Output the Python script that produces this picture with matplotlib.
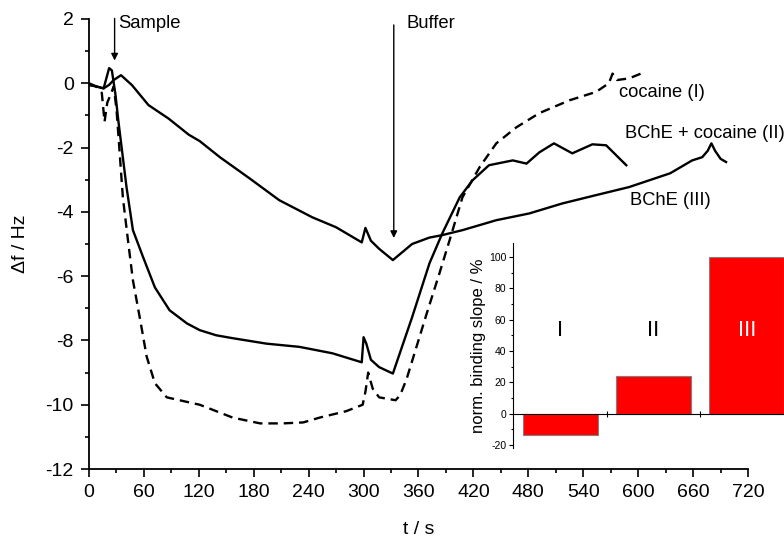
import matplotlib
matplotlib.use("Agg")
import matplotlib.pyplot as plt
from matplotlib.ticker import MultipleLocator

plt.rcParams['font.family'] = ['Liberation Sans', 'DejaVu Sans']
plt.rcParams['axes.unicode_minus'] = False

# cocaine (I), dashed
t_coc = [0, 8, 14, 17, 20, 23, 27, 30, 32, 37, 43, 48, 56, 63, 72, 85, 99, 121,
         139, 157, 187, 212, 234, 252, 281, 299, 302, 305, 310, 317, 335, 340,
         347, 369, 383, 394, 408, 427, 445, 467, 492, 525, 554, 568, 572, 577,
         590, 603]
y_coc = [0, -0.1, -0.3, -1.2, -0.6, -0.4, -0.1, -0.8, -1.56, -3.55, -4.98, -6.13,
         -7.37, -8.5, -9.33, -9.77, -9.86, -10.0, -10.2, -10.4, -10.58, -10.58,
         -10.55, -10.4, -10.2, -10.0, -9.6, -9.0, -9.5, -9.77, -9.86, -9.7, -9.2,
         -7.16, -5.9, -4.88, -3.55, -2.6, -1.87, -1.37, -0.93, -0.53, -0.27, 0.0,
         0.3, 0.1, 0.15, 0.3]

# BChE + cocaine (II), solid lower
t_mix = [0, 8, 16, 22, 25, 29, 32, 41, 48, 59, 72, 88, 107, 121, 139, 157, 194,
         230, 266, 298, 300, 303, 308, 317, 332, 353, 372, 386, 405, 419, 437,
         463, 478, 492, 508, 528, 550, 565, 576, 587]
y_mix = [-0.05, -0.1, -0.16, 0.47, 0.4, -0.37, -1.15, -3.23, -4.57, -5.4, -6.35,
         -7.06, -7.47, -7.68, -7.84, -7.93, -8.1, -8.2, -8.4, -8.68, -7.9, -8.1,
         -8.6, -8.83, -9.03, -7.28, -5.6, -4.67, -3.55, -3.02, -2.55, -2.4, -2.5,
         -2.15, -1.87, -2.18, -1.9, -1.93, -2.24, -2.55]

# BChE (III), solid upper
t_bch = [0, 8, 16, 22, 27, 35, 47, 65, 87, 109, 121, 143, 175, 208, 244, 270,
         298, 302, 308, 317, 332, 353, 372, 385, 408, 445, 481, 517, 554, 590,
         612, 635, 659, 670, 676, 680, 684, 690, 696]
y_bch = [-0.05, -0.1, -0.16, -0.05, 0.1, 0.25, -0.06, -0.68, -1.1, -1.6, -1.8,
         -2.3, -2.95, -3.64, -4.17, -4.48, -4.95, -4.5, -4.9, -5.15, -5.5, -5.0,
         -4.8, -4.73, -4.57, -4.26, -4.05, -3.74, -3.48, -3.23, -3.02, -2.8,
         -2.4, -2.3, -2.1, -1.87, -2.1, -2.35, -2.45]

# inset bars
bar_labels = ['I', 'II', 'III']
bar_values = [-14, 24, 100]

fig = plt.figure(figsize=(7.84, 5.41), dpi=100)
ax = fig.add_axes([0.1135, 0.133, 0.8406, 0.832])

ax.plot(t_coc, y_coc, color='black', lw=1.7, dashes=(4, 2.5))
ax.plot(t_mix, y_mix, color='black', lw=1.7)
ax.plot(t_bch, y_bch, color='black', lw=1.7)

ax.set_xlim(0, 720)
ax.set_ylim(-12, 2)
ax.xaxis.set_major_locator(MultipleLocator(60))
ax.xaxis.set_minor_locator(MultipleLocator(30))
ax.yaxis.set_major_locator(MultipleLocator(2))
ax.yaxis.set_minor_locator(MultipleLocator(1))
ax.spines['top'].set_visible(False)
ax.spines['right'].set_visible(False)
for s in ['left', 'bottom']:
    ax.spines[s].set_linewidth(1.3)
ax.tick_params(which='major', direction='out', length=6, width=1.2, labelsize=14, pad=5)
ax.tick_params(which='minor', direction='out', length=3, width=1.2)
ax.set_xlabel('t / s', fontsize=14, labelpad=14)
ax.set_ylabel('Δf / Hz', fontsize=14, labelpad=12)

arrow = dict(arrowstyle='-|>', color='black', lw=1.0, mutation_scale=10)
ax.annotate('', xy=(28, 0.62), xytext=(28, 2.1), arrowprops=arrow, annotation_clip=False)
ax.annotate('', xy=(333, -4.9), xytext=(333, 1.9), arrowprops=arrow, annotation_clip=False)
ax.text(32, 1.85, 'Sample', fontsize=13.3, va='center', ha='left')
ax.text(347, 1.85, 'Buffer', fontsize=13.3, va='center', ha='left')

ax.text(579, -0.3, 'cocaine (I)', fontsize=13.2, va='center', ha='left')
ax.text(586, -1.56, 'BChE + cocaine (II)', fontsize=13.2, va='center', ha='left', clip_on=False)
ax.text(591, -3.64, 'BChE (III)', fontsize=13.2, va='center', ha='left')

# inset
ins = fig.add_axes([0.654, 0.172, 0.346, 0.379])
pos = [1, 2, 3]
ins.bar(pos, bar_values, width=0.8, color='#ff0000', edgecolor='#808080', lw=0.8)
ins.set_xlim(0.49, 3.4)
ins.set_ylim(-22, 109)
ins.patch.set_alpha(0)
ins.spines['top'].set_visible(False)
ins.spines['right'].set_visible(False)
ins.spines['bottom'].set_position(('data', 0))
ins.spines['left'].set_linewidth(0.8)
ins.spines['bottom'].set_linewidth(0.8)
ins.yaxis.set_major_locator(MultipleLocator(20))
ins.yaxis.set_minor_locator(MultipleLocator(10))
ins.set_xticks([1.5, 2.5])
ins.set_xticklabels([])
ins.tick_params(axis='x', direction='inout', length=4, width=0.8)
ins.tick_params(axis='y', which='major', direction='out', length=3, width=0.8, labelsize=7.5, pad=1.5)
ins.tick_params(axis='y', which='minor', direction='out', length=1.5, width=0.8)
ins.set_ylabel('norm. binding slope / %', fontsize=12, labelpad=2)
for p, lab in zip(pos, bar_labels):
    ins.text(p, 53, lab, fontsize=16, ha='center', va='center',
             color='white' if lab == 'III' else 'black')

fig.savefig('out.png', dpi=100)
